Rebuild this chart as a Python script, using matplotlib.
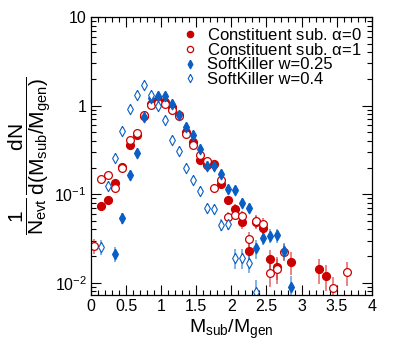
import matplotlib
matplotlib.use('Agg')
import matplotlib.pyplot as plt
import numpy as np
from matplotlib.ticker import FixedLocator, FixedFormatter, MultipleLocator, FormatStrFormatter

plt.rcParams['font.family'] = ['Liberation Sans', 'DejaVu Sans']
plt.rcParams['mathtext.fontset'] = 'custom'
plt.rcParams['mathtext.rm'] = 'Liberation Sans'
plt.rcParams['mathtext.it'] = 'Liberation Sans'
plt.rcParams['mathtext.default'] = 'rm'

# Constituent subtraction alpha=0 (filled circles)
cs0_x = [0.15, 0.25, 0.35, 0.45, 0.55, 0.65, 0.75, 0.85, 0.95, 1.05, 1.15, 1.25,
         1.35, 1.45, 1.55, 1.65, 1.75, 1.85, 1.95, 2.05, 2.15, 2.25, 2.35, 2.45,
         2.55, 2.65, 2.85, 3.25, 3.35]
cs0_y = [0.074, 0.085, 0.135, 0.203, 0.356, 0.47, 0.76, 1.05, 1.15, 1.10, 0.97, 0.79,
         0.50, 0.385, 0.246, 0.215, 0.222, 0.130, 0.086, 0.068, 0.048, 0.0228, 0.049, 0.042,
         0.0185, 0.0152, 0.0174, 0.0142, 0.0121]
cs0_e = [0.007, 0.007, 0.010, 0.013, 0.020, 0.025, 0.035, 0.045, 0.050, 0.050, 0.045, 0.040,
         0.030, 0.025, 0.020, 0.018, 0.018, 0.013, 0.010, 0.009, 0.007, 0.005, 0.008, 0.007,
         0.005, 0.0045, 0.005, 0.0045, 0.004]

# Constituent subtraction alpha=1 (open circles)
cs1_x = [0.05, 0.15, 0.25, 0.35, 0.45, 0.55, 0.65, 0.75, 0.85, 0.95, 1.05, 1.15, 1.25,
         1.35, 1.45, 1.55, 1.65, 1.75, 1.85, 1.95, 2.05, 2.15, 2.25, 2.35, 2.45,
         2.55, 2.65, 2.75, 3.45, 3.65]
cs1_y = [0.026, 0.150, 0.166, 0.118, 0.198, 0.413, 0.496, 0.78, 1.02, 1.08, 1.05, 0.90, 0.77,
         0.48, 0.36, 0.28, 0.235, 0.119, 0.144, 0.055, 0.059, 0.057, 0.0316, 0.050, 0.0465,
         0.0130, 0.0142, 0.0225, 0.0087, 0.0132]
cs1_e = [0.005, 0.010, 0.011, 0.010, 0.013, 0.022, 0.025, 0.035, 0.045, 0.048, 0.048, 0.042, 0.038,
         0.030, 0.025, 0.020, 0.018, 0.012, 0.013, 0.008, 0.008, 0.008, 0.006, 0.008, 0.007,
         0.004, 0.0045, 0.005, 0.003, 0.004]

# SoftKiller w=0.25 (filled diamonds)
sk25_x = [0.35, 0.45, 0.55, 0.65, 0.75, 0.85, 0.95, 1.05, 1.15, 1.25, 1.35, 1.45, 1.55,
          1.65, 1.75, 1.85, 1.95, 2.05, 2.15, 2.25, 2.35, 2.45, 2.55, 2.65, 2.75, 2.85]
sk25_y = [0.0213, 0.054, 0.166, 0.295, 0.745, 1.22, 1.29, 1.29, 1.05, 0.79, 0.575, 0.47, 0.32,
          0.208, 0.208, 0.168, 0.115, 0.113, 0.080, 0.070, 0.0245, 0.0324, 0.034, 0.0345, 0.0230, 0.0089]
sk25_e = [0.004, 0.008, 0.014, 0.020, 0.035, 0.050, 0.052, 0.052, 0.045, 0.040, 0.032, 0.028, 0.022,
          0.017, 0.017, 0.015, 0.012, 0.012, 0.009, 0.008, 0.006, 0.006, 0.006, 0.006, 0.005, 0.003]

# SoftKiller w=0.4 (open diamonds)
sk40_x = [0.15, 0.25, 0.35, 0.45, 0.55, 0.65, 0.75, 0.85, 0.95, 1.05, 1.15, 1.25, 1.35,
          1.45, 1.55, 1.65, 1.75, 1.85, 1.95, 2.05, 2.15, 2.25, 2.35]
sk40_y = [0.0255, 0.124, 0.256, 0.518, 0.91, 1.33, 1.70, 1.33, 1.00, 0.68, 0.41, 0.31, 0.20,
          0.144, 0.110, 0.070, 0.068, 0.0454, 0.046, 0.0193, 0.0193, 0.0168, 0.0078]
sk40_e = [0.005, 0.011, 0.016, 0.022, 0.030, 0.036, 0.040, 0.036, 0.032, 0.026, 0.020, 0.018, 0.014,
          0.012, 0.010, 0.008, 0.008, 0.007, 0.007, 0.005, 0.005, 0.004, 0.003]

red = '#cc0000'
blue = '#0a5fc4'
red_err = (0.85, 0.2, 0.2, 0.65)
blue_err = (0.2, 0.5, 0.85, 0.65)

# narrow ROOT-like diamond
diamond = [(0, 1), (0.55, 0), (0, -1), (-0.55, 0), (0, 1)]

fig = plt.figure(figsize=(4.15, 3.47), dpi=100)
ax = fig.add_axes([0.219, 0.150, 0.677, 0.801])

eb = dict(elinewidth=1.3, capsize=0, linestyle='none')
ax.errorbar(cs0_x, cs0_y, yerr=cs0_e, fmt='none', ecolor=red_err, **eb)
ax.errorbar(cs1_x, cs1_y, yerr=cs1_e, fmt='none', ecolor=red_err, **eb)
ax.errorbar(sk25_x, sk25_y, yerr=sk25_e, fmt='none', ecolor=blue_err, **eb)
ax.errorbar(sk40_x, sk40_y, yerr=sk40_e, fmt='none', ecolor=blue_err, **eb)
m1, = ax.plot(cs0_x, cs0_y, linestyle='none', marker='o', ms=5.6, color=red,
              mec=red, mfc=red, label=r'Constituent sub. $\alpha$=0')
m2, = ax.plot(cs1_x, cs1_y, linestyle='none', marker='o', ms=5.6, color=red,
              mec=red, mfc='white', mew=0.9, label=r'Constituent sub. $\alpha$=1')
m3, = ax.plot(sk25_x, sk25_y, linestyle='none', marker=diamond, ms=7.5, color=blue,
              mec=blue, mfc=blue, label='SoftKiller w=0.25')
m4, = ax.plot(sk40_x, sk40_y, linestyle='none', marker=diamond, ms=7.5, color=blue,
              mec=blue, mfc='white', mew=0.8, label='SoftKiller w=0.4')

ax.set_yscale('log')
ax.set_xlim(0, 4)
ax.set_ylim(0.0073, 10)

ax.xaxis.set_major_locator(MultipleLocator(0.5))
ax.xaxis.set_minor_locator(MultipleLocator(0.1))
ax.xaxis.set_major_formatter(FormatStrFormatter('%g'))
ax.yaxis.set_major_locator(FixedLocator([0.01, 0.1, 1, 10]))
ax.yaxis.set_major_formatter(FixedFormatter([r'$10^{-2}$', r'$10^{-1}$', '1', '10']))
ax.tick_params(which='both', direction='in', top=True, right=True, labelsize=11.5, width=0.8)
ax.tick_params(which='major', length=7, pad=3)
ax.tick_params(which='minor', length=3.5)
for s in ax.spines.values():
    s.set_linewidth(0.9)

ax.set_xlabel(r'$M_{sub}/M_{gen}$', fontsize=14, labelpad=3)
ax.set_ylabel(r'$\dfrac{1}{N_{evt}}\,\dfrac{dN}{d(M_{sub}/M_{gen})}$', fontsize=15, labelpad=0)

leg = ax.legend(handles=[m1, m2, m3, m4], loc='upper right', bbox_to_anchor=(1.0, 1.0),
                frameon=False, fontsize=12, handlelength=0.8, handletextpad=0.6,
                labelspacing=-0.05, borderaxespad=0.2, markerscale=0.8)

fig.savefig('out.png', dpi=100)
